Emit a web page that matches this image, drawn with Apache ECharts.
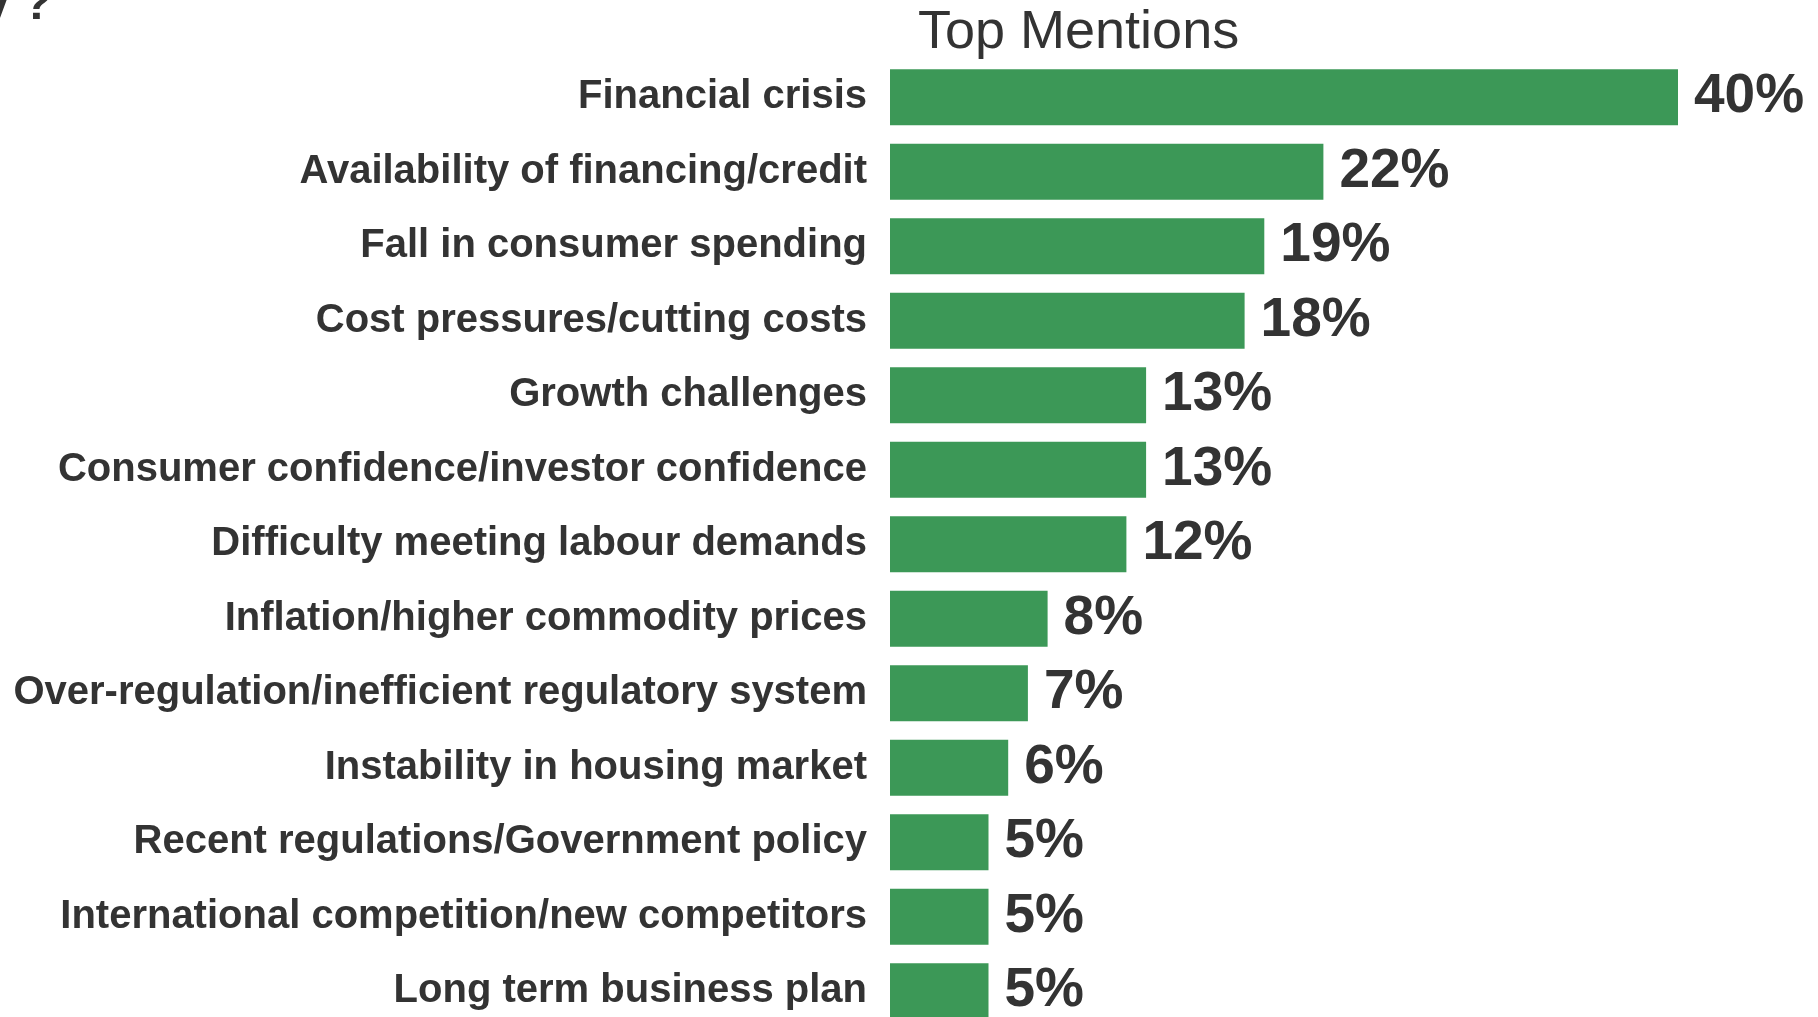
<!DOCTYPE html>
<html>
<head>
<meta charset="utf-8">
<title>Top Mentions</title>
<script src="https://cdn.jsdelivr.net/npm/echarts@6/dist/echarts.min.js"></script>
<style>
  html, body { margin: 0; padding: 0; background: #fff; }
  #main { width: 1818px; height: 1017px; }
</style>
</head>
<body>
<div id="main"></div>
<script>
var categories = [
  'Financial crisis',
  'Availability of financing/credit',
  'Fall in consumer spending',
  'Cost pressures/cutting costs',
  'Growth challenges',
  'Consumer confidence/investor confidence',
  'Difficulty meeting labour demands',
  'Inflation/higher commodity prices',
  'Over-regulation/inefficient regulatory system',
  'Instability in housing market',
  'Recent regulations/Government policy',
  'International competition/new competitors',
  'Long term business plan'
];
var mentions = [40, 22, 19, 18, 13, 13, 12, 8, 7, 6, 5, 5, 5];

var font = "'Liberation Sans', Arial, sans-serif";
var textColor = '#333333';

var myChart = echarts.init(document.getElementById('main'));
var option = {
  animation: false,
  backgroundColor: '#ffffff',
  graphic: [
    {
      type: 'text',
      x: 918,
      y: 33,
      style: {
        text: 'Top Mentions',
        font: '54px ' + font,
        fill: textColor,
        align: 'left',
        verticalAlign: 'middle'
      }
    },
    {
      // end of a question cut off by the top-left corner
      type: 'text',
      x: 52,
      y: 6,
      style: {
        text: 'y ?',
        font: 'bold 48px ' + font,
        fill: textColor,
        align: 'right',
        verticalAlign: 'middle'
      }
    }
  ],
  grid: {
    left: 890,
    top: 60,
    bottom: -11.5,
    width: 788,
    outerBoundsMode: 'none'
  },
  xAxis: {
    type: 'value',
    min: 0,
    max: 40,
    show: false
  },
  yAxis: {
    type: 'category',
    inverse: true,
    data: categories,
    axisLine: { show: false },
    axisTick: { show: false },
    axisLabel: {
      margin: 23,
      fontFamily: font,
      fontWeight: 'bold',
      fontSize: 40,
      color: textColor
    }
  },
  series: [
    {
      type: 'bar',
      data: mentions,
      barWidth: 56,
      itemStyle: { color: '#3C9857' },
      label: {
        show: true,
        position: 'right',
        distance: 16,
        formatter: '{c}%',
        fontFamily: font,
        fontWeight: 'bold',
        fontSize: 55,
        color: textColor
      }
    }
  ]
};
myChart.setOption(option);
</script>
</body>
</html>
